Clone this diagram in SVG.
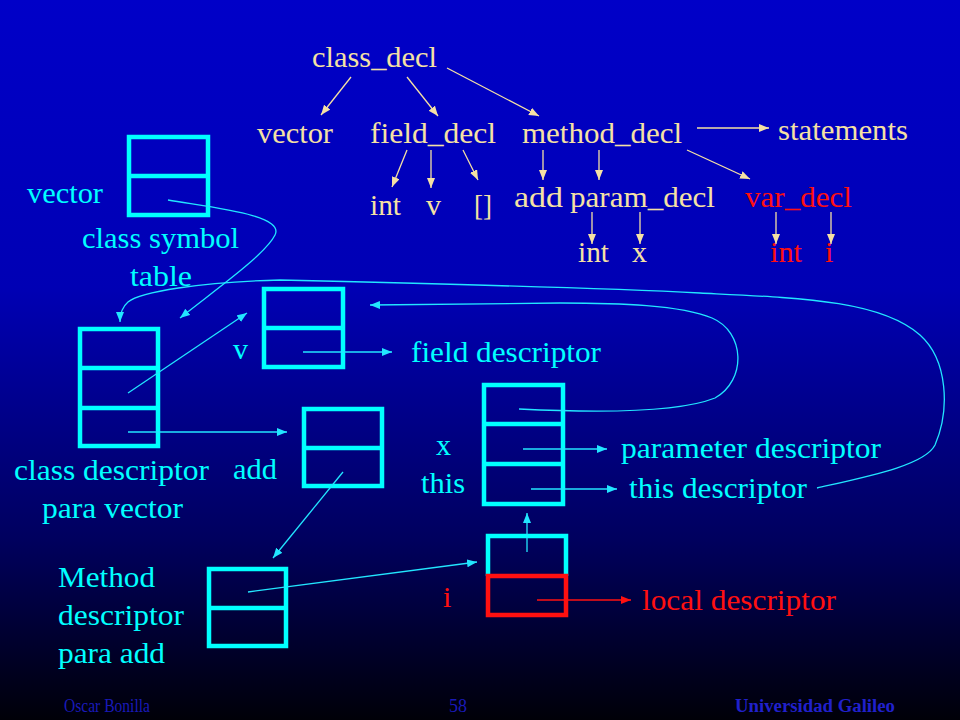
<svg xmlns="http://www.w3.org/2000/svg" width="960" height="720" viewBox="0 0 960 720">
<defs>
<linearGradient id="bg" x1="0" y1="0" x2="0" y2="1">
<stop offset="0" stop-color="#0000C8"/>
<stop offset="0.4" stop-color="#0000B4"/>
<stop offset="0.75" stop-color="#00005E"/>
<stop offset="1" stop-color="#000008"/>
</linearGradient>
<marker id="aw" markerUnits="userSpaceOnUse" markerWidth="12" markerHeight="10" refX="10" refY="4" orient="auto"><path d="M0,0 L10,4 L0,8 Z" fill="#F5E1A4"/></marker>
<marker id="ac" markerUnits="userSpaceOnUse" markerWidth="12" markerHeight="10" refX="10" refY="4" orient="auto"><path d="M0,0 L10,4 L0,8 Z" fill="#22E6FF"/></marker>
<marker id="ar" markerUnits="userSpaceOnUse" markerWidth="12" markerHeight="10" refX="10" refY="4" orient="auto"><path d="M0,0 L10,4 L0,8 Z" fill="#FF1010"/></marker>
</defs>
<style>
text{font-family:"Liberation Serif","Times New Roman",serif;font-size:30px}
.w{fill:#F5E1A4}
.c{fill:#00FFFF}
.r{fill:#FF1010}
.box{fill:none;stroke:#00FFFF;stroke-width:4.5}
.rbox{fill:none;stroke:#FF1010;stroke-width:4.5}
.tw{stroke:#F5E1A4;stroke-width:1.3;fill:none;marker-end:url(#aw)}
.tc{stroke:#22E6FF;stroke-width:1.3;fill:none;marker-end:url(#ac)}
.tr{stroke:#FF1010;stroke-width:1.3;fill:none;marker-end:url(#ar)}
.ft{font-size:18px;fill:#1A1AB8}
</style>
<rect x="0" y="0" width="960" height="720" fill="url(#bg)"/>

<g id="tree">
<text class="w" x="312" y="67" textLength="125" lengthAdjust="spacingAndGlyphs">class_decl</text>
<text class="w" x="257" y="143" textLength="76" lengthAdjust="spacingAndGlyphs">vector</text>
<text class="w" x="370" y="143" textLength="126" lengthAdjust="spacingAndGlyphs">field_decl</text>
<text class="w" x="522" y="143" textLength="160" lengthAdjust="spacingAndGlyphs">method_decl</text>
<text class="w" x="778" y="140" textLength="130" lengthAdjust="spacingAndGlyphs">statements</text>
<text class="w" x="370" y="215" textLength="31" lengthAdjust="spacingAndGlyphs">int</text>
<text class="w" x="426" y="215">v</text>
<text class="w" x="474" y="215" textLength="18" lengthAdjust="spacingAndGlyphs">[]</text>
<text class="w" x="514" y="207" textLength="49" lengthAdjust="spacingAndGlyphs">add</text>
<text class="w" x="570" y="207" textLength="145" lengthAdjust="spacingAndGlyphs">param_decl</text>
<text class="w" x="578" y="262" textLength="31" lengthAdjust="spacingAndGlyphs">int</text>
<text class="w" x="632" y="262">x</text>
<text class="r" x="745" y="207" textLength="107" lengthAdjust="spacingAndGlyphs">var_decl</text>
<text class="r" x="770" y="262" textLength="32" lengthAdjust="spacingAndGlyphs">int</text>
<text class="r" x="825" y="262">i</text>
</g>

<g id="labels">
<text class="c" x="27" y="203" textLength="76" lengthAdjust="spacingAndGlyphs">vector</text>
<text class="c" x="82" y="248" textLength="157" lengthAdjust="spacingAndGlyphs">class symbol</text>
<text class="c" x="130" y="286" textLength="62" lengthAdjust="spacingAndGlyphs">table</text>
<text class="c" x="233" y="359">v</text>
<text class="c" x="14" y="480" textLength="195" lengthAdjust="spacingAndGlyphs">class descriptor</text>
<text class="c" x="42" y="518" textLength="141" lengthAdjust="spacingAndGlyphs">para vector</text>
<text class="c" x="233" y="479" textLength="44" lengthAdjust="spacingAndGlyphs">add</text>
<text class="c" x="411" y="362" textLength="190" lengthAdjust="spacingAndGlyphs">field descriptor</text>
<text class="c" x="436" y="455">x</text>
<text class="c" x="421" y="493" textLength="44" lengthAdjust="spacingAndGlyphs">this</text>
<text class="c" x="621" y="458" textLength="260" lengthAdjust="spacingAndGlyphs">parameter descriptor</text>
<text class="c" x="629" y="498" textLength="178" lengthAdjust="spacingAndGlyphs">this descriptor</text>
<text class="c" x="58" y="587" textLength="97" lengthAdjust="spacingAndGlyphs">Method</text>
<text class="c" x="58" y="625" textLength="126" lengthAdjust="spacingAndGlyphs">descriptor</text>
<text class="c" x="58" y="663" textLength="107" lengthAdjust="spacingAndGlyphs">para add</text>
<text class="r" x="443" y="607">i</text>
<text class="r" x="642" y="610" textLength="194" lengthAdjust="spacingAndGlyphs">local descriptor</text>
</g>

<g id="class-symbol-table"><rect class="box" x="129" y="137" width="79" height="78"/><line class="box" x1="129" y1="176" x2="208" y2="176"/></g>
<g id="class-descriptor"><rect class="box" x="80" y="329" width="78" height="117"/><line class="box" x1="80" y1="368" x2="158" y2="368"/><line class="box" x1="80" y1="408" x2="158" y2="408"/></g>
<g id="field-table"><rect class="box" x="264" y="289" width="79" height="78"/><line class="box" x1="264" y1="328" x2="343" y2="328"/></g>
<g id="method-table"><rect class="box" x="304" y="409" width="78" height="77"/><line class="box" x1="304" y1="448" x2="382" y2="448"/></g>
<g id="param-table"><rect class="box" x="484" y="385" width="79" height="119"/><line class="box" x1="484" y1="424" x2="563" y2="424"/><line class="box" x1="484" y1="464" x2="563" y2="464"/></g>
<g id="method-descriptor"><rect class="box" x="209" y="569" width="77" height="77"/><line class="box" x1="209" y1="608" x2="286" y2="608"/></g>
<g id="local-table"><path class="box" d="M488,576 V536 H566 V576"/><rect class="rbox" x="488" y="576" width="78" height="39"/></g>

<g id="connectors">
<line class="tw" x1="351" y1="77" x2="321" y2="115"/>
<line class="tw" x1="407" y1="77" x2="438" y2="116"/>
<line class="tw" x1="447" y1="68" x2="539" y2="116"/>
<line class="tw" x1="697" y1="128" x2="769" y2="128"/>
<line class="tw" x1="687" y1="150" x2="750" y2="179"/>
<line class="tw" x1="407" y1="150" x2="392" y2="187"/>
<line class="tw" x1="431" y1="150" x2="431" y2="188"/>
<line class="tw" x1="463" y1="150" x2="478" y2="180"/>
<line class="tw" x1="543" y1="150" x2="543" y2="180"/>
<line class="tw" x1="599" y1="150" x2="599" y2="180"/>
<line class="tw" x1="592" y1="212" x2="592" y2="244"/>
<line class="tw" x1="640" y1="212" x2="640" y2="244"/>
<line class="tw" x1="776" y1="212" x2="776" y2="244"/>
<line class="tw" x1="831" y1="212" x2="831" y2="244"/>

<path class="tc" d="M168,200 C215,208 285,215 275,235 C265,255 215,290 180,318"/>
<path class="tc" d="M817,488 C870,476 925,465 935,445 C950,410 948,360 920,335 C880,300 800,298 700,293 C600,288 450,284 280,280 C200,282 140,292 128,302 C121,308 120,315 120,322"/>
<path class="tc" d="M519,409 C600,413 680,412 715,398 C747,380 745,332 712,318 C680,305 620,303 560,303 L370,305"/>
<line class="tc" x1="128" y1="393" x2="247" y2="313"/>
<line class="tc" x1="128" y1="432" x2="287" y2="432"/>
<line class="tc" x1="343" y1="472" x2="273" y2="558"/>
<line class="tc" x1="303" y1="352" x2="392" y2="352"/>
<line class="tc" x1="248" y1="592" x2="477" y2="562"/>
<line class="tc" x1="527" y1="552" x2="527" y2="513"/>
<line class="tc" x1="523" y1="449" x2="607" y2="449"/>
<line class="tc" x1="531" y1="489" x2="617" y2="489"/>
<line class="tr" x1="537" y1="600" x2="631" y2="600"/>
</g>

<g id="footer">
<text class="ft" x="64" y="712" textLength="86" lengthAdjust="spacingAndGlyphs">Oscar Bonilla</text>
<text class="ft" x="449" y="712" textLength="18" lengthAdjust="spacingAndGlyphs">58</text>
<text class="ft" x="735" y="712" textLength="160" lengthAdjust="spacingAndGlyphs" font-weight="bold" style="fill:#2020CC">Universidad Galileo</text>
</g>
</svg>
